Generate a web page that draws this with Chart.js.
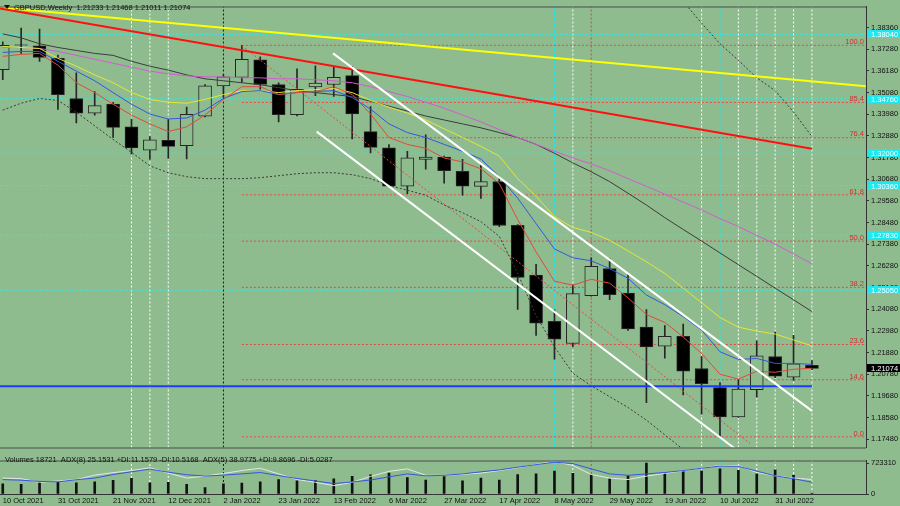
<!DOCTYPE html>
<html>
<head>
<meta charset="utf-8">
<title>GBPUSD Weekly</title>
<script src="https://cdn.jsdelivr.net/npm/chart.js@4.4.1/dist/chart.umd.min.js"></script>
<style>
  html, body { margin: 0; padding: 0; background: #8fbc8f; }
  #wrap { position: relative; width: 900px; height: 506px; overflow: hidden; background: #8fbc8f; }
  #c1 { position: absolute; left: 0; top: 0; }
  #c2 { position: absolute; left: 0; top: 454px; }
</style>
</head>
<body>
<div id="wrap">
  <canvas id="c1" width="900" height="454"></canvas>
  <canvas id="c2" width="900" height="52"></canvas>
</div>
<script>
// GBPUSD weekly bars

const dates = ['10 Oct 2021','17 Oct 2021','24 Oct 2021','31 Oct 2021','7 Nov 2021','14 Nov 2021','21 Nov 2021','28 Nov 2021','5 Dec 2021','12 Dec 2021',
  '19 Dec 2021','26 Dec 2021','2 Jan 2022','9 Jan 2022','16 Jan 2022','23 Jan 2022','30 Jan 2022','6 Feb 2022','13 Feb 2022','20 Feb 2022',
  '27 Feb 2022','6 Mar 2022','13 Mar 2022','20 Mar 2022','27 Mar 2022','3 Apr 2022','10 Apr 2022','17 Apr 2022','24 Apr 2022','1 May 2022',
  '8 May 2022','15 May 2022','22 May 2022','29 May 2022','5 Jun 2022','12 Jun 2022','19 Jun 2022','26 Jun 2022','3 Jul 2022','10 Jul 2022',
  '17 Jul 2022','24 Jul 2022','31 Jul 2022','7 Aug 2022','14 Aug 2022'];
const labelIdx = [0, 3, 6, 9, 12, 15, 18, 21, 24, 27, 30, 33, 36, 39, 42];

const open = [1.3624, 1.3751, 1.3745, 1.3682, 1.3478, 1.3404, 1.3450, 1.3334, 1.3215, 1.3265,
  1.3239, 1.3388, 1.3542, 1.3585, 1.3674, 1.3549, 1.3396, 1.3537, 1.3549, 1.3594,
  1.3310, 1.3227, 1.3033, 1.3169, 1.3181, 1.3108, 1.3032, 1.3056, 1.2834, 1.2581,
  1.2346, 1.2234, 1.2477, 1.2615, 1.2490, 1.2317, 1.2221, 1.2270, 1.2107, 1.2010,
  1.1861, 1.1999, 1.2168, 1.2063, 1.21233];
const high = [1.3766, 1.3836, 1.3831, 1.3698, 1.3608, 1.3513, 1.3459, 1.3374, 1.3285, 1.3373,
  1.3434, 1.3549, 1.3598, 1.3748, 1.3690, 1.3558, 1.3629, 1.3644, 1.3641, 1.3641,
  1.3437, 1.3244, 1.3210, 1.3293, 1.3186, 1.3169, 1.3141, 1.3073, 1.2838, 1.2636,
  1.2405, 1.2532, 1.2669, 1.2664, 1.2590, 1.2406, 1.2325, 1.2333, 1.2168, 1.2035,
  1.2052, 1.2247, 1.2292, 1.2275, 1.21468];
const low = [1.3573, 1.3707, 1.3666, 1.3422, 1.3354, 1.3393, 1.3280, 1.3195, 1.3169, 1.3174,
  1.3171, 1.3385, 1.3483, 1.3560, 1.3525, 1.3359, 1.3389, 1.3492, 1.3488, 1.3273,
  1.3202, 1.3030, 1.2995, 1.3119, 1.3048, 1.2987, 1.2971, 1.2827, 1.2407, 1.2275,
  1.2154, 1.2217, 1.2474, 1.2457, 1.2300, 1.1933, 1.2159, 1.1973, 1.1875, 1.1760,
  1.1858, 1.1961, 1.2060, 1.2047, 1.21011];
const close = [1.3748, 1.3749, 1.3687, 1.3497, 1.3404, 1.3442, 1.3331, 1.3227, 1.3268, 1.3235,
  1.3398, 1.3542, 1.3588, 1.3677, 1.3549, 1.3396, 1.3525, 1.3556, 1.3586, 1.3400,
  1.3230, 1.3033, 1.3177, 1.3181, 1.3111, 1.3033, 1.3056, 1.2833, 1.2570, 1.2337,
  1.2256, 1.2487, 1.2626, 1.2482, 1.2308, 1.2217, 1.2270, 1.2093, 1.2030, 1.1861,
  1.2002, 1.2171, 1.2068, 1.2131, 1.21074];

// moving averages
const maRed = [1.3692, 1.3702, 1.3707, 1.3647, 1.3558, 1.3508, 1.3449, 1.3394, 1.3349, 1.3310,
  1.3334, 1.3394, 1.3473, 1.3538, 1.3538, 1.3498, 1.3508, 1.3513, 1.3538, 1.3498,
  1.3399, 1.3280, 1.3245, 1.3225, 1.3176, 1.3156, 1.3121, 1.3046, 1.2863, 1.2699,
  1.2550, 1.2530, 1.2560, 1.2540, 1.2466, 1.2381, 1.2341, 1.2267, 1.2183, 1.2078,
  1.2053, 1.2093, 1.2088, 1.2103, 1.2108];
const maBlue = [1.3712, 1.3717, 1.3717, 1.3667, 1.3617, 1.3568, 1.3508, 1.3449, 1.3399, 1.3374,
  1.3379, 1.3419, 1.3478, 1.3513, 1.3518, 1.3498, 1.3508, 1.3513, 1.3518, 1.3483,
  1.3424, 1.3349, 1.3305, 1.3280, 1.3245, 1.3210, 1.3171, 1.3081, 1.2972, 1.2843,
  1.2714, 1.2669, 1.2654, 1.2614, 1.2565, 1.2480, 1.2431, 1.2371, 1.2302, 1.2192,
  1.2153, 1.2158, 1.2133, 1.2133, 1.2128];
const maYellow = [1.3742, 1.3737, 1.3732, 1.3682, 1.3642, 1.3598, 1.3558, 1.3508, 1.3473, 1.3459,
  1.3454, 1.3473, 1.3498, 1.3518, 1.3518, 1.3508, 1.3518, 1.3523, 1.3528, 1.3508,
  1.3468, 1.3434, 1.3404, 1.3369, 1.3324, 1.3280, 1.3235, 1.3185, 1.3071, 1.2982,
  1.2878, 1.2823, 1.2798, 1.2758, 1.2704, 1.2649, 1.2590, 1.2515, 1.2441, 1.2366,
  1.2317, 1.2297, 1.2282, 1.2252, 1.2222];
const maMagenta = [1.3737, 1.3737, 1.3732, 1.3717, 1.3697, 1.3677, 1.3657, 1.3637, 1.3617, 1.3603,
  1.3593, 1.3588, 1.3588, 1.3583, 1.3583, 1.3578, 1.3578, 1.3573, 1.3568, 1.3558,
  1.3538, 1.3513, 1.3488, 1.3459, 1.3429, 1.3394, 1.3359, 1.3320, 1.3280, 1.3245,
  1.3210, 1.3176, 1.3146, 1.3111, 1.3071, 1.3032, 1.2992, 1.2952, 1.2912, 1.2868,
  1.2828, 1.2783, 1.2739, 1.2689, 1.2639];
const maGray = [1.3806, 1.3786, 1.3756, 1.3737, 1.3722, 1.3707, 1.3697, 1.3667, 1.3642, 1.3622,
  1.3598, 1.3578, 1.3568, 1.3558, 1.3548, 1.3533, 1.3518, 1.3508, 1.3498, 1.3488,
  1.3464, 1.3439, 1.3414, 1.3389, 1.3369, 1.3349, 1.3329, 1.3305, 1.3280, 1.3245,
  1.3200, 1.3151, 1.3106, 1.3056, 1.2997, 1.2937, 1.2873, 1.2813, 1.2754, 1.2694,
  1.2634, 1.2575, 1.2515, 1.2456, 1.2396];
// bollinger bands (dotted), lower from bar 0, upper from bar 36
const bbLower = [1.3419, 1.3454, 1.3478, 1.3468, 1.3409, 1.3339, 1.3270, 1.3205, 1.3136, 1.3101,
  1.3081, 1.3071, 1.3071, 1.3071, 1.3076, 1.3086, 1.3096, 1.3101, 1.3101, 1.3091,
  1.3071, 1.3037, 1.3012, 1.2987, 1.2937, 1.2898, 1.2853, 1.2778, 1.2590, 1.2376,
  1.2217, 1.2083, 1.2019, 1.1964, 1.1909, 1.1845, 1.1770, 1.1696, 1.1621];
const bbUpper = [1.4104, 1.3970, 1.3861, 1.3756, 1.3672, 1.3583, 1.3518, 1.3409, 1.3285];
const bbUpperStart = 36;

// volume panel
const volume = [240000, 228000, 287000, 274000, 261000, 287000, 319000, 365000, 261000, 274000,
  228000, 150000, 240000, 254000, 287000, 339000, 306000, 313000, 352000, 411000,
  450000, 489000, 385000, 326000, 405000, 306000, 371000, 326000, 456000, 469000,
  534000, 482000, 450000, 352000, 424000, 723310, 502000, 521000, 534000, 586000,
  553000, 469000, 567000, 436000, 18721];
const adx8 = [38.7, 37.1, 33.8, 32.6, 38.3, 42.8, 52.4, 59.6, 66.8, 58.5,
  51.8, 48.2, 50.6, 54.0, 57.8, 49.5, 41.6, 34.9, 28.1, 32.2,
  37.6, 46.1, 54.0, 48.8, 50.2, 54.0, 59.6, 64.6, 72.0, 78.8,
  85.5, 81.7, 67.5, 54.0, 50.2, 54.0, 57.8, 63.0, 69.1, 74.9,
  74.3, 61.4, 48.8, 41.2, 31.5];
const adx5 = [42.8, 41.2, 31.5, 34.9, 38.7, 50.6, 57.4, 63.0, 70.4, 56.3,
  42.8, 48.4, 55.1, 63.0, 69.1, 54.0, 38.9, 31.5, 22.5, 31.5,
  47.3, 60.8, 67.5, 50.2, 50.2, 52.9, 56.3, 63.0, 70.9, 79.4,
  87.8, 76.5, 52.4, 42.8, 38.9, 47.9, 55.6, 62.3, 69.1, 76.5,
  76.5, 57.8, 48.8, 42.8, 38.9];

// levels and drawn objects
const priceTicks = [1.38360, 1.37280, 1.36180, 1.35080, 1.33980, 1.32880, 1.31780, 1.30680, 1.29580, 1.28480,
  1.27380, 1.26280, 1.25180, 1.24080, 1.22980, 1.21880, 1.20780, 1.19680, 1.18580, 1.17480];
const cyanLevels = [1.38040, 1.34760, 1.32000, 1.30360, 1.27830, 1.25050];
const fibLevels = [1.3748, 1.3458, 1.3279, 1.2989, 1.2754, 1.2519, 1.2229, 1.2050, 1.1760];
const fibNames = ['100.0', '85.4', '76.4', '61.8', '50.0', '38.2', '23.6', '14.6', '0.0'];
const fibStart = 13;
const supportLevel = 1.2017;
const trendYellow = [[-0.15, 1.3940], [46.94, 1.3540]];
const trendRed = [[-0.15, 1.3935], [44, 1.3223]];
const channelUpper = [[17.96, 1.3707], [44, 1.1892]];
const channelLower = [[17.07, 1.3310], [44, 1.1404]];
const diagRed = [[13, 1.3746], [40.64, 1.1726]];
const vWhite = [7, 8, 9, 31, 38, 40, 41, 42, 43, 44];
const vCyan = [30, 39];
const vRed = [32];
const vBlack = [12];

const xMin = -0.15, xMax = 46.94;
const pMin = 1.17059, pMax = 1.39451;
const volMax = 782000;
const bg = '#8fbc8f';
const fontFam = '"Liberation Sans", Arial, sans-serif';
const txt = '#101010';

const idx = dates.map((d, i) => i);
const pts = (arr, from) => arr.map((v, k) => ({ x: k + (from || 0), y: v }));
const xy = (arr) => arr.map(p => ({ x: p[0], y: p[1] }));

function line(data, color, width, dash, order, axis) {
  return { type: 'line', data: data, borderColor: color, borderWidth: width, borderDash: dash || [],
    pointRadius: 0, tension: 0, fill: false, order: order, clip: 0, yAxisID: axis || 'y' };
}

function verticals(lo, hi) {
  let out = [];
  vWhite.forEach(i => out.push(line([{ x: i, y: lo }, { x: i, y: hi }], '#ffffff', 1, [2, 2], 20)));
  vCyan.forEach(i => out.push(line([{ x: i, y: lo }, { x: i, y: hi }], '#22e6e6', 1, [4, 2], 20)));
  vRed.forEach(i => out.push(line([{ x: i, y: lo }, { x: i, y: hi }], '#e04040', 1, [2, 2], 20)));
  vBlack.forEach(i => out.push(line([{ x: i, y: lo }, { x: i, y: hi }], '#1a1a1a', 1, [2, 2], 20)));
  return out;
}

// ---------- main price panel ----------
let ds1 = verticals(pMin, pMax);

cyanLevels.forEach(v => ds1.push(line([{ x: xMin, y: v }, { x: xMax, y: v }], '#2ae8e8', 1, [3, 2], 19)));
fibLevels.forEach(v => ds1.push(line([{ x: fibStart, y: v }, { x: xMax, y: v }], '#e04a4a', 1, [2, 2], 19)));

ds1.push({
  type: 'bar', data: idx.map(i => ({ x: i, y: [low[i], high[i]] })),
  backgroundColor: '#262626', barThickness: 1, grouped: false, order: 18, yAxisID: 'y'
});
ds1.push({
  type: 'bar', data: idx.map(i => ({ x: i, y: [open[i], close[i]] })),
  backgroundColor: idx.map(i => close[i] > open[i] ? bg : '#000000'),
  borderColor: '#262626', borderWidth: 1, borderSkipped: false,
  barThickness: 13, grouped: false, order: 17, yAxisID: 'y'
});

ds1.push(line(pts(bbLower), '#3a3a3a', 1, [2, 2], 12));
ds1.push(line(pts(bbUpper, bbUpperStart), '#3a3a3a', 1, [2, 2], 12));
ds1.push(line(xy(diagRed), '#e04a4a', 1, [2, 2], 12));
ds1.push(line([{ x: xMin, y: supportLevel }, { x: 44, y: supportLevel }], '#1a3cff', 2, [], 11));
ds1.push(line(pts(maGray), '#3c3c3c', 1, [], 10));
ds1.push(line(pts(maMagenta), '#d25ad2', 1, [], 9));
ds1.push(line(pts(maYellow), '#e6e632', 1, [], 8));
ds1.push(line(pts(maBlue), '#3456e0', 1, [], 7));
ds1.push(line(pts(maRed), '#e04a3a', 1, [], 6));
ds1.push(line(xy(trendYellow), '#ffff00', 2, [], 5));
ds1.push(line(xy(trendRed), '#ff1010', 2, [], 4));
ds1.push(line(xy(channelUpper), '#ffffff', 2, [], 3));
ds1.push(line(xy(channelLower), '#ffffff', 2, [], 3));

const mainOverlay = {
  id: 'mainOverlay',
  afterDraw(chart) {
    const { ctx, chartArea: a } = chart;
    const y = chart.scales.y;
    ctx.save();
    ctx.strokeStyle = '#4a4a4a';
    ctx.lineWidth = 1;
    ctx.beginPath();
    ctx.moveTo(0, a.top + 0.5); ctx.lineTo(a.right, a.top + 0.5);
    ctx.moveTo(0, a.bottom + 0.5); ctx.lineTo(a.right, a.bottom + 0.5);
    ctx.stroke();

    ctx.font = '7.5px ' + fontFam;
    ctx.fillStyle = '#d82c2c';
    ctx.textAlign = 'right';
    ctx.textBaseline = 'bottom';
    fibLevels.forEach((v, k) => ctx.fillText(fibNames[k], a.right - 2, y.getPixelForValue(v) + 0.5));

    ctx.textAlign = 'left';
    ctx.textBaseline = 'middle';
    cyanLevels.forEach(v => {
      const py = Math.round(y.getPixelForValue(v));
      ctx.fillStyle = '#1ee8ee';
      ctx.fillRect(a.right + 1, py - 4, 33, 8);
      ctx.fillStyle = '#ffffff';
      ctx.fillText(v.toFixed(5), a.right + 5, py + 0.5);
    });
    const last = close[close.length - 1];
    const lp = Math.round(y.getPixelForValue(last));
    ctx.fillStyle = '#000000';
    ctx.fillRect(a.right + 1, lp - 4, 33, 8);
    ctx.fillStyle = '#ffffff';
    ctx.fillText(last.toFixed(5), a.right + 5, lp + 0.5);

    // symbol header
    ctx.fillStyle = '#111111';
    ctx.beginPath();
    ctx.moveTo(4, 5); ctx.lineTo(10, 5); ctx.lineTo(7, 9); ctx.closePath();
    ctx.fill();
    ctx.fillStyle = txt;
    ctx.fillText('GBPUSD,Weekly  ' + [open[44], high[44], low[44], close[44]].map(v => v.toFixed(5)).join(' '), 14, 7.5);
    ctx.restore();
  }
};

new Chart(document.getElementById('c1'), {
  type: 'line',
  data: { datasets: ds1 },
  options: {
    responsive: false, animation: false, events: [], devicePixelRatio: 1,
    layout: { padding: { top: 2, bottom: 1, left: 0, right: 0 } },
    plugins: { legend: { display: false }, tooltip: { enabled: false } },
    scales: {
      x: { type: 'linear', min: xMin, max: xMax, display: false, offset: false, grid: { offset: false } },
      y: {
        type: 'linear', position: 'right', min: pMin, max: pMax, beginAtZero: false,
        afterBuildTicks: s => { s.ticks = priceTicks.map(v => ({ value: v })); },
        afterFit: s => { s.width = 34; },
        ticks: { autoSkip: false, padding: 2, color: txt, font: { family: fontFam, size: 7.5 }, callback: v => v.toFixed(5) },
        grid: { drawOnChartArea: false, tickLength: 3, color: '#333333' },
        border: { display: true, color: '#333333' }
      }
    }
  },
  plugins: [mainOverlay]
});

// ---------- volume / ADX panel ----------
let ds2 = verticals(0, volMax);
ds2.push({
  type: 'bar', data: idx.map(i => ({ x: i, y: volume[i] })),
  backgroundColor: '#111111', barThickness: 2, grouped: false, order: 15, yAxisID: 'y'
});
ds2.push(line(pts(adx5), '#e6e6e6', 1, [], 6, 'ya'));
ds2.push(line(pts(adx8), '#3456e0', 1, [], 5, 'ya'));

const volOverlay = {
  id: 'volOverlay',
  afterDraw(chart) {
    const { ctx, chartArea: a } = chart;
    ctx.save();
    ctx.strokeStyle = '#4a4a4a';
    ctx.lineWidth = 1;
    ctx.beginPath();
    ctx.moveTo(0, a.top + 0.5); ctx.lineTo(a.right, a.top + 0.5);
    ctx.stroke();
    ctx.font = '7.5px ' + fontFam;
    ctx.fillStyle = txt;
    ctx.textAlign = 'left';
    ctx.textBaseline = 'middle';
    ctx.fillText('Volumes 18721  ADX(8) 25.1531 +DI:11.1579 -DI:10.5168  ADX(5) 38.9775 +DI:9.8696 -DI:5.0287', 5, 5.5);
    ctx.restore();
  }
};

new Chart(document.getElementById('c2'), {
  type: 'line',
  data: { datasets: ds2 },
  options: {
    responsive: false, animation: false, events: [], devicePixelRatio: 1,
    layout: { padding: 0 },
    plugins: { legend: { display: false }, tooltip: { enabled: false } },
    scales: {
      x: {
        type: 'linear', min: xMin, max: xMax, offset: false, position: 'bottom',
        afterBuildTicks: s => { s.ticks = labelIdx.map(v => ({ value: v })); },
        afterFit: s => { s.height = 12; },
        ticks: { autoSkip: false, maxRotation: 0, align: 'start', padding: 2, color: txt,
          font: { family: fontFam, size: 7.5 }, callback: v => dates[v] },
        grid: { drawOnChartArea: false, drawTicks: false, offset: false },
        border: { display: true, color: '#333333' }
      },
      y: {
        type: 'linear', position: 'right', min: 0, max: volMax, beginAtZero: false,
        afterBuildTicks: s => { s.ticks = [{ value: 723310 }, { value: 0 }]; },
        afterFit: s => { s.width = 34; },
        ticks: { autoSkip: false, padding: 2, color: txt, font: { family: fontFam, size: 7.5 }, callback: v => String(v) },
        grid: { drawOnChartArea: false, tickLength: 3, color: '#333333' },
        border: { display: true, color: '#333333' }
      },
      ya: { type: 'linear', display: false, min: 0, max: 90 }
    }
  },
  plugins: [volOverlay]
});
</script>
</body>
</html>
